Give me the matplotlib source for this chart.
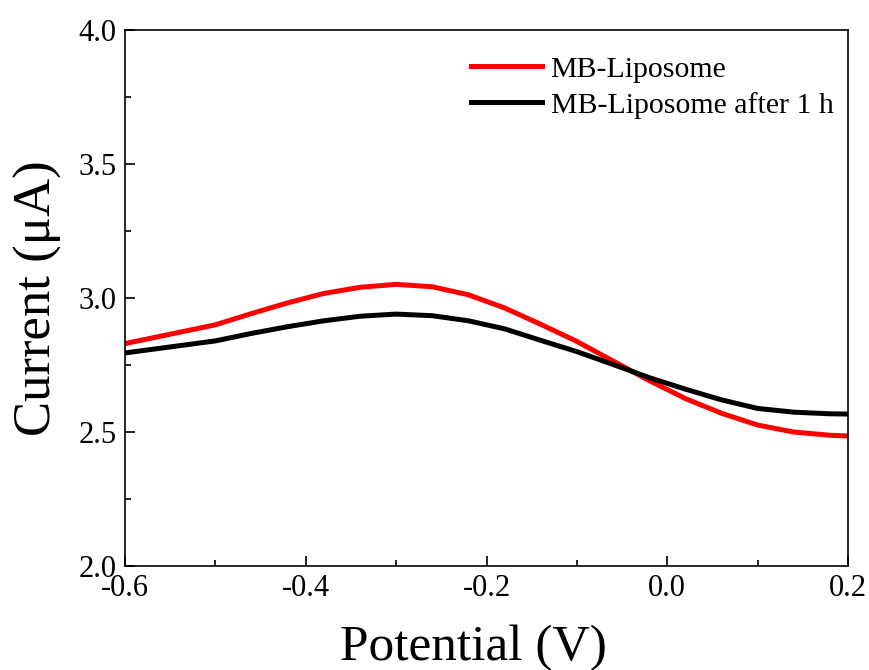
import matplotlib
matplotlib.use("Agg")
import matplotlib.pyplot as plt
from matplotlib.ticker import MultipleLocator

plt.rcParams['font.family'] = ['Liberation Serif', 'DejaVu Serif']

potential = [-0.60, -0.50, -0.46, -0.42, -0.38, -0.34, -0.30, -0.26, -0.22, -0.18,
             -0.14, -0.10, -0.06, -0.02, 0.02, 0.06, 0.10, 0.14, 0.18, 0.20]
mb_liposome = [2.830, 2.900, 2.942, 2.982, 3.017, 3.040, 3.051, 3.042, 3.012, 2.963,
               2.902, 2.838, 2.765, 2.692, 2.625, 2.570, 2.526, 2.500, 2.488, 2.485]
mb_liposome_1h = [2.795, 2.840, 2.868, 2.893, 2.915, 2.932, 2.940, 2.934, 2.915, 2.885,
                  2.842, 2.800, 2.752, 2.703, 2.660, 2.620, 2.588, 2.574, 2.568, 2.567]

fig = plt.figure(figsize=(8.7, 6.7), dpi=100)
ax = fig.add_axes([0.1437, 0.1552, 0.8310, 0.8000])

ax.plot(potential, mb_liposome, color='#ff0000', lw=3.6, label='MB-Liposome')
ax.plot(potential, mb_liposome_1h, color='#000000', lw=3.6, label='MB-Liposome after 1 h')

ax.set_xlim(-0.6, 0.2)
ax.set_ylim(2.0, 4.0)
ax.xaxis.set_minor_locator(MultipleLocator(0.1))
ax.yaxis.set_minor_locator(MultipleLocator(0.25))
ticks_x = [-0.6, -0.4, -0.2, 0.0, 0.2]
ax.set_xticks(ticks_x)
ax.set_xticklabels(['-0.6', '-0.4', '-0.2', '0.0', '0.2'])
ticks_y = [2.0, 2.5, 3.0, 3.5, 4.0]
ax.set_yticks(ticks_y)
ax.set_yticklabels(['2.0', '2.5', '3.0', '3.5', '4.0'])

ax.tick_params(which='both', direction='in', top=False, right=False, labelsize=22, width=1.2)
ax.tick_params(which='major', length=7, pad=6)
ax.tick_params(which='minor', length=4)
for s in ax.spines.values():
    s.set_linewidth(1.2)

ax.set_xlabel('Potential (V)', fontsize=37, labelpad=15)
ax.xaxis.label.set_x(0.482)
ax.set_ylabel('Current (μA)', fontsize=38, labelpad=12)

ax.legend(loc='upper right', bbox_to_anchor=(1.021, 1.0075), frameon=False, fontsize=21.5,
          handlelength=2.4, handletextpad=0.28, labelspacing=0.3, borderaxespad=0.6)

fig.savefig('out.png', dpi=100)
